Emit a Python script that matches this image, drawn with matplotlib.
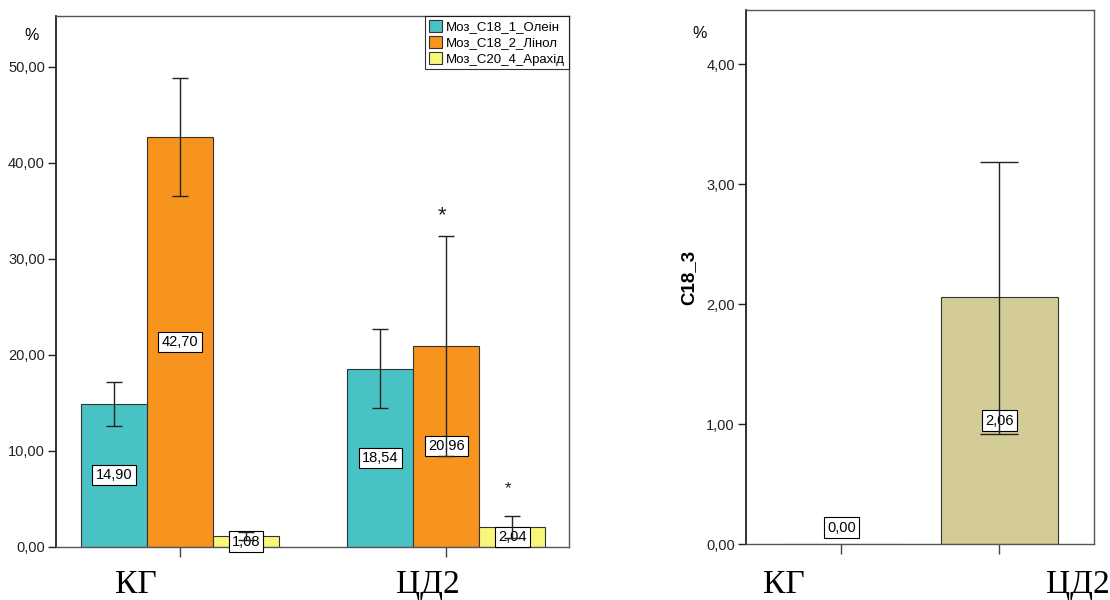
import matplotlib.pyplot as plt
import numpy as np
from matplotlib.ticker import FuncFormatter

plt.rcParams['font.family'] = ['Liberation Sans', 'DejaVu Sans']

# дані
groups = ['КГ', 'ЦД2']
series = ['Моз_C18_1_Олеін', 'Моз_C18_2_Лінол', 'Моз_C20_4_Арахід']
colors = ['#48C2C5', '#F7941D', '#F9F77A']
means = [[14.90, 18.54], [42.70, 20.96], [1.08, 2.04]]
ci_low = [[12.60, 14.45], [36.55, 9.50], [0.70, 0.90]]
ci_high = [[17.15, 22.70], [48.80, 32.40], [1.50, 3.15]]
stars = [(1, 1, 34.5, 16), (1, 2, 6.1, 12)]  # група, серія, рівень, розмір

c18_3 = [0.00, 2.06]
c18_3_low = [0.00, 0.92]
c18_3_high = [0.00, 3.18]

fmt = FuncFormatter(lambda v, p: f'{v:.2f}'.replace('.', ','))
lab = lambda v: f'{v:.2f}'.replace('.', ',')
box = dict(boxstyle='square,pad=0.22', fc='white', ec='black', lw=0.8)


def style(ax):
    for s in ['top', 'right']:
        ax.spines[s].set_color('#555555')
        ax.spines[s].set_linewidth(1.0)
    ax.spines['left'].set_color('#222222')
    ax.spines['left'].set_linewidth(1.3)
    ax.spines['bottom'].set_color('#555555')
    ax.spines['bottom'].set_linewidth(1.0)
    ax.yaxis.set_major_formatter(fmt)
    ax.tick_params(axis='y', length=6, width=1, colors='#222222', labelsize=10.5, pad=2)
    ax.tick_params(axis='x', length=7, width=1, colors='#444444', labelbottom=False)


fig = plt.figure(figsize=(11.1, 6.0), dpi=100)

# ліва діаграма
ax = fig.add_axes([56 / 1110, 1 - 546.7 / 600, 513 / 1110, 530.7 / 600])
x = np.arange(len(groups))
w = 0.248
for i in range(len(series)):
    xs = x + (i - 1) * w
    m = np.array(means[i])
    err = [m - np.array(ci_low[i]), np.array(ci_high[i]) - m]
    ax.bar(xs, m, width=w, color=colors[i], edgecolor='#333333', linewidth=0.8,
           label=series[i], zorder=2)
    for xx, v in zip(xs, m):
        ax.text(xx, v / 2, lab(v), ha='center', va='center', fontsize=10.5,
                bbox=box, zorder=3)
    ax.errorbar(xs, m, yerr=err, fmt='none', ecolor='#222222', elinewidth=1,
                capsize=6, capthick=1, zorder=4)
for g, s, lvl, size in stars:
    ax.text(x[g] + (s - 1) * w - 0.015, lvl, '*', ha='center', va='center',
            fontsize=size, color='#222222')
ax.set_xlim(-0.466, 1.462)
ax.set_ylim(0, 55.3)
ax.set_yticks(np.arange(0, 51, 10))
ax.set_xticks(x)
style(ax)
leg = ax.legend(loc='upper right', fontsize=9.5, frameon=True, fancybox=False,
                borderaxespad=0, handlelength=1.0, handleheight=1.0,
                handletextpad=0.3, borderpad=0.3, labelspacing=0.2)
leg.get_frame().set_edgecolor('black')
leg.get_frame().set_linewidth(0.8)
fig.text(32 / 1110, 1 - 36 / 600, '%', fontsize=11.5, ha='center', va='center')

# права діаграма
ax2 = fig.add_axes([746 / 1110, 1 - 544.3 / 600, 348 / 1110, 534.3 / 600])
x2 = np.arange(len(groups))
w2 = 0.74
m2 = np.array(c18_3)
ax2.bar(x2, m2, width=w2, color='#D3CC97', edgecolor='#333333', linewidth=0.8, zorder=2)
for xx, v in zip(x2, m2):
    if v == 0:
        ax2.annotate(lab(v), (xx, 0), xytext=(0, 12), textcoords='offset points',
                     ha='center', va='center', fontsize=10.5, bbox=box, zorder=3)
    else:
        ax2.text(xx, v / 2, lab(v), ha='center', va='center', fontsize=10.5,
                 bbox=box, zorder=3)
err2 = [m2 - np.array(c18_3_low), np.array(c18_3_high) - m2]
ax2.errorbar(x2[1:], m2[1:], yerr=[err2[0][1:], err2[1][1:]], fmt='none',
             ecolor='#222222', elinewidth=1, capsize=14, capthick=1, zorder=4)
ax2.set_xlim(-0.604, 1.598)
ax2.set_ylim(0, 4.45)
ax2.set_yticks(np.arange(0, 4.01, 1))
ax2.set_xticks(x2)
style(ax2)
ax2.set_ylabel('C18_3', fontsize=13.5, fontweight='bold', labelpad=6)
fig.text(700 / 1110, 1 - 33 / 600, '%', fontsize=11.5, ha='center', va='center')

# підписи груп
serif = ['Liberation Serif', 'DejaVu Serif']
for xp, t in [(136, 'КГ'), (428, 'ЦД2'), (784, 'КГ'), (1078, 'ЦД2')]:
    fig.text(xp / 1110, 1 - 585 / 600, t, fontsize=24, family=serif,
             ha='center', va='center')

fig.savefig('out.png', dpi=100)
